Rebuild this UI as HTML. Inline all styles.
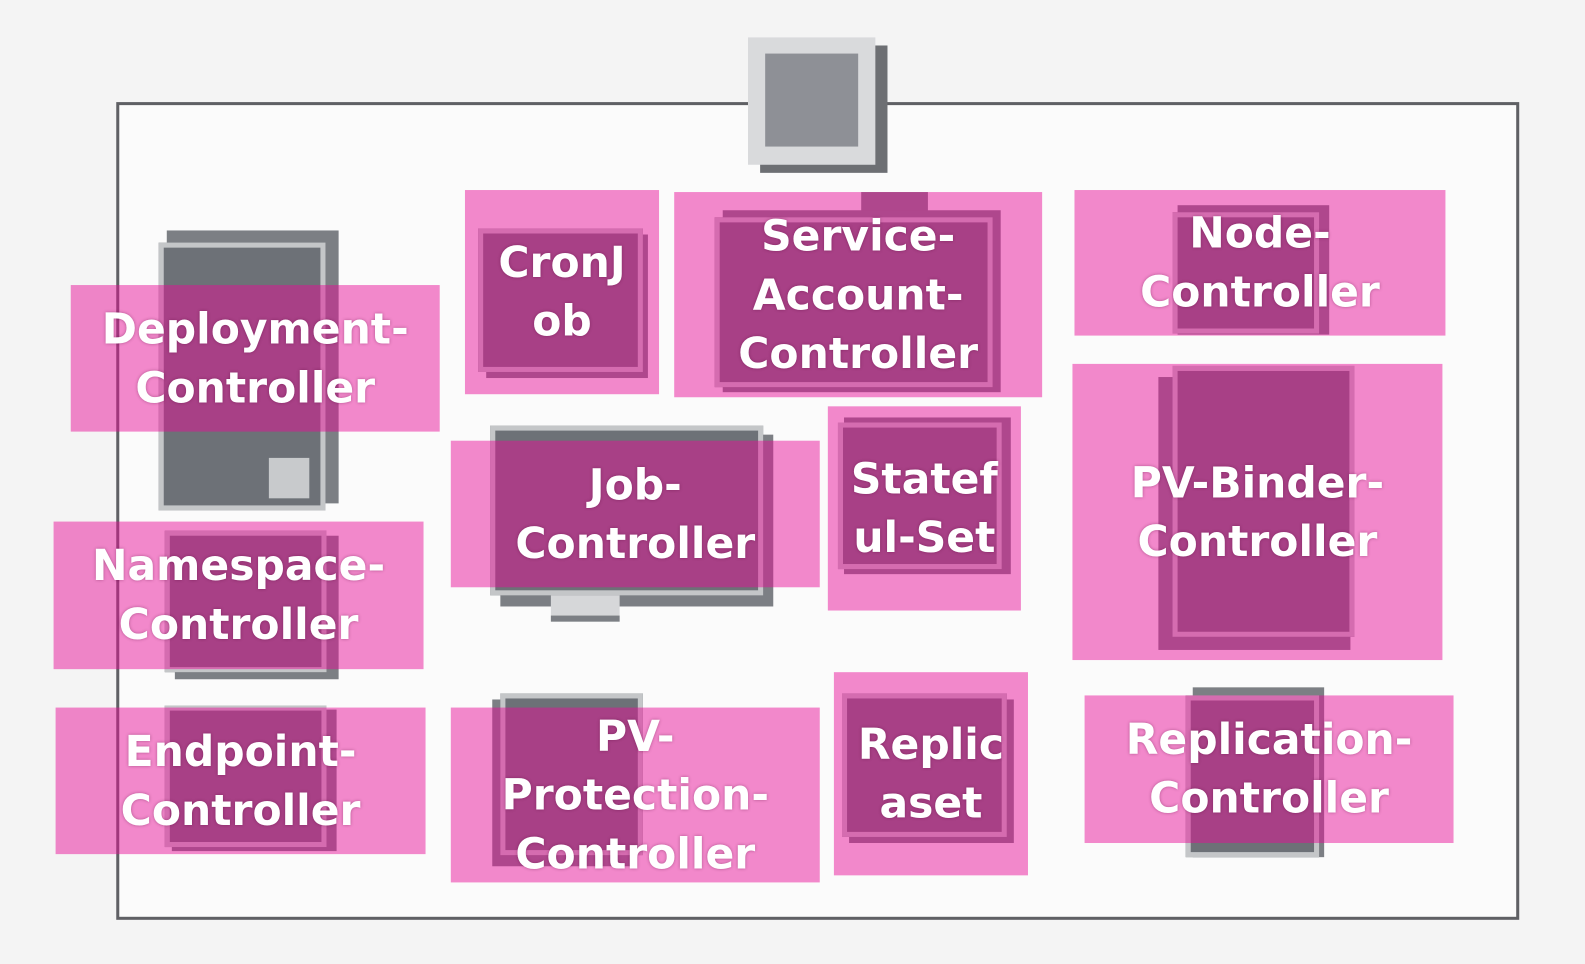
<!DOCTYPE html>
<html><head><meta charset="utf-8"><style>
html,body{margin:0;padding:0}
body{width:1585px;height:964px;background:#f4f4f4;position:relative;overflow:hidden;font-family:"DejaVu Sans","Liberation Sans",sans-serif}
#w{position:absolute;left:0;top:0;width:1568px;height:954px;transform:scale(1.0108);transform-origin:0 0}
#w div{position:absolute;box-sizing:border-box}
#w .frame{left:115px;top:101px;width:1388px;height:809px;border:3px solid #5f6064;background:#fbfbfb}
#w .g{background:#6d7177;border:5px solid #c4c6c8}
#w .sh{background:#7c7f84}
#w .p{background:rgba(233,10,150,0.48);display:flex;align-items:center;justify-content:center;text-align:center;color:#fff;font-weight:bold;font-size:42px;line-height:58px;text-shadow:0 0 3px rgba(80,0,50,.4)}
</style></head><body><div id="w">
<div class="frame"></div>
<div style="left:752px;top:45px;width:126px;height:126px;background:#6d6f73"></div>
<div style="left:740px;top:37px;width:126px;height:126px;background:#d9dadc"></div>
<div style="left:757px;top:53px;width:92px;height:92px;background:#8e9096"></div>

<div class="sh" style="left:165px;top:228px;width:170px;height:270px"></div>
<div class="g" style="left:157px;top:240px;width:165px;height:265px"></div>
<div style="left:266px;top:453px;width:40px;height:40px;background:#c8cacc"></div>

<div class="sh" style="left:481px;top:232px;width:160px;height:142px"></div>
<div class="g" style="left:473px;top:226px;width:163px;height:142px"></div>

<div class="sh" style="left:852px;top:190px;width:66px;height:20px"></div>
<div class="sh" style="left:715px;top:208px;width:275px;height:180px"></div>
<div class="g" style="left:707px;top:215px;width:275px;height:168px"></div>

<div class="sh" style="left:1165px;top:203px;width:150px;height:128px"></div>
<div class="g" style="left:1160px;top:210px;width:145px;height:120px"></div>

<div class="sh" style="left:495px;top:430px;width:270px;height:170px"></div>
<div class="g" style="left:485px;top:421px;width:270px;height:168px"></div>
<div style="left:545px;top:589px;width:68px;height:26px;background:#d6d7d9;border-bottom:6px solid #7c7f84"></div>

<div class="sh" style="left:835px;top:413px;width:165px;height:155px"></div>
<div class="g" style="left:829px;top:418px;width:162px;height:145px"></div>

<div class="sh" style="left:1146px;top:373px;width:190px;height:270px"></div>
<div class="g" style="left:1160px;top:362px;width:180px;height:268px"></div>

<div class="sh" style="left:173px;top:530px;width:162px;height:142px"></div>
<div class="g" style="left:163px;top:525px;width:160px;height:140px"></div>

<div class="sh" style="left:170px;top:702px;width:163px;height:140px"></div>
<div class="g" style="left:163px;top:698px;width:160px;height:140px"></div>

<div class="sh" style="left:487px;top:692px;width:140px;height:165px"></div>
<div class="g" style="left:495px;top:686px;width:141px;height:160px"></div>

<div class="sh" style="left:840px;top:692px;width:163px;height:142px"></div>
<div class="g" style="left:833px;top:686px;width:163px;height:142px"></div>

<div class="sh" style="left:1180px;top:680px;width:130px;height:168px"></div>
<div class="g" style="left:1173px;top:688px;width:132px;height:160px"></div>

<div class="p" style="left:70px;top:282px;width:365px;height:145px"><span>Deployment-<br>Controller</span></div>
<div class="p" style="left:460px;top:188px;width:192px;height:202px"><span>CronJ<br>ob</span></div>
<div class="p" style="left:667px;top:190px;width:364px;height:203px"><span>Service-<br>Account-<br>Controller</span></div>
<div class="p" style="left:1063px;top:188px;width:367px;height:144px"><span>Node-<br>Controller</span></div>
<div class="p" style="left:446px;top:436px;width:365px;height:145px"><span>Job-<br>Controller</span></div>
<div class="p" style="left:819px;top:402px;width:191px;height:202px"><span>Statef<br>ul-Set</span></div>
<div class="p" style="left:1061px;top:360px;width:366px;height:293px"><span>PV-Binder-<br>Controller</span></div>
<div class="p" style="left:53px;top:516px;width:366px;height:146px"><span>Namespace-<br>Controller</span></div>
<div class="p" style="left:55px;top:700px;width:366px;height:145px"><span>Endpoint-<br>Controller</span></div>
<div class="p" style="left:446px;top:700px;width:365px;height:173px"><span>PV-<br>Protection-<br>Controller</span></div>
<div class="p" style="left:825px;top:665px;width:192px;height:201px"><span>Replic<br>aset</span></div>
<div class="p" style="left:1073px;top:688px;width:365px;height:146px"><span>Replication-<br>Controller</span></div>
</div></body></html>
